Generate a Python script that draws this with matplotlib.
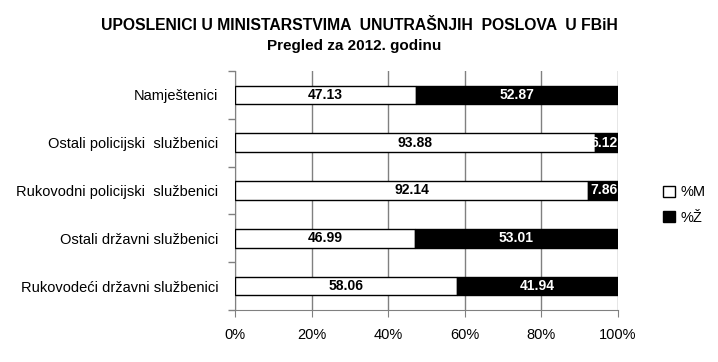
import matplotlib
matplotlib.use("Agg")
import matplotlib.pyplot as plt
from matplotlib.patches import Patch

plt.rcParams['font.family'] = ['Liberation Sans', 'DejaVu Sans']

categories = ["Namještenici", "Ostali policijski  službenici", "Rukovodni policijski  službenici",
              "Ostali državni službenici", "Rukovodeći državni službenici"]
pct_m = [47.13, 93.88, 92.14, 46.99, 58.06]
pct_z = [52.87, 6.12, 7.86, 53.01, 41.94]
series_names = ["%M", "%Ž"]
xticks = [0, 20, 40, 60, 80, 100]
xtick_labels = ["0%", "20%", "40%", "60%", "80%", "100%"]

fig = plt.figure(figsize=(7.18, 3.62), dpi=100)
ax = fig.add_axes([235/718, 1-310/362, (618-235)/718, (310-71)/362])

ypos = list(range(len(categories)))[::-1]
h = 0.39
ax.barh(ypos, pct_m, height=h, color='white', edgecolor='black', linewidth=1, zorder=3)
ax.barh(ypos, pct_z, left=pct_m, height=h, color='black', edgecolor='black', linewidth=1, zorder=3)

for y, m, z in zip(ypos, pct_m, pct_z):
    ax.text(m/2, y, f"{m:.2f}", ha='center', va='center', fontsize=10, fontweight='bold', color='black', zorder=4)
    ax.text(m + z/2 if z > 10 else 100 - 0.2, y, f"{z:.2f}", ha='center' if z > 10 else 'right', va='center',
            fontsize=10, fontweight='bold', color='white', zorder=4)

ax.set_xlim(0, 100)
ax.set_ylim(-0.5, len(categories)-0.5)
ax.set_xticks(xticks)
ax.set_xticklabels(xtick_labels, fontsize=10.5)
ax.set_yticks(ypos)
ax.set_yticklabels(categories, fontsize=10.5)
ax.tick_params(axis='y', length=0, pad=12)
ax.set_yticks([i-0.5 for i in range(len(categories)+1)], minor=True)
ax.tick_params(axis='y', which='minor', length=5, color='#808080', width=1)
ax.tick_params(axis='x', length=5, color='#808080', pad=8)
ax.grid(axis='x', color='#808080', linewidth=1, zorder=0)
for s in ['top', 'right']:
    ax.spines[s].set_visible(False)
for s in ['left', 'bottom']:
    ax.spines[s].set_color('#808080')

handles = [Patch(facecolor='white', edgecolor='black', label=series_names[0]),
           Patch(facecolor='black', edgecolor='black', label=series_names[1])]
fig.legend(handles=handles, loc='center left', bbox_to_anchor=(650/718, 1-205/362), frameon=False,
           fontsize=10.5, handlelength=0.8, handleheight=0.8, handletextpad=0.4, labelspacing=0.8)

fig.text(359/718, 1-25/362, "UPOSLENICI U MINISTARSTVIMA  UNUTRAŠNJIH  POSLOVA  U FBiH",
         ha='center', va='center', fontsize=11.3, fontweight='bold')
fig.text(354/718, 1-46/362, "Pregled za 2012. godinu", ha='center', va='center', fontsize=11, fontweight='bold')

fig.savefig("out.png", dpi=100)
